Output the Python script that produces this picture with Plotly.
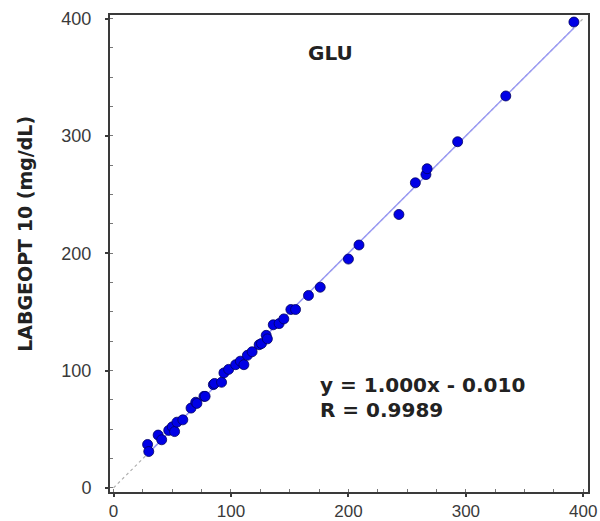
import plotly.graph_objects as go

# Reference method (x) vs LABGEOPT 10 (y), glucose mg/dL
x_ref = [29, 30, 38, 41, 47, 50, 52, 54, 59, 66, 70, 71, 77, 78, 85, 86, 92, 94,
         98, 104, 108, 111, 114, 118, 124, 126, 130, 131, 136, 141, 145, 151, 155,
         166, 176, 200, 209, 243, 257, 266, 267, 293, 334, 392]
y_lab = [37, 31, 45, 41, 49, 52, 48, 56, 58, 68, 73, 72, 78, 78, 88, 89, 90, 98,
         101, 105, 108, 105, 113, 116, 122, 123, 130, 127, 139, 140, 144, 152, 152,
         164, 171, 195, 207, 233, 260, 267, 272, 295, 334, 397]

slope = 1.000
intercept = -0.010
r_value = 0.9989
identity = [0, 400]
tick_vals = [0, 100, 200, 300, 400]

fit_x = [min(x_ref), max(x_ref)]
fit_y = [slope * v + intercept for v in fit_x]

fig = go.Figure()
fig.add_trace(go.Scatter(x=identity, y=identity, mode="lines",
                         line=dict(color="#b0b0b0", width=1.2, dash="dot"),
                         hoverinfo="skip", showlegend=False))
fig.add_trace(go.Scatter(x=fit_x, y=fit_y, mode="lines",
                         line=dict(color="#9a9af5", width=1.5),
                         hoverinfo="skip", showlegend=False))
fig.add_trace(go.Scatter(x=x_ref, y=y_lab, mode="markers",
                         marker=dict(color="#0000e6", size=10,
                                     line=dict(color="#000060", width=0.8)),
                         showlegend=False))

axis_common = dict(
    tickvals=tick_vals, showgrid=False, zeroline=False, automargin=False,
    showline=True, linecolor="#3a3a3a", linewidth=2, mirror=True,
    ticks="outside", ticklen=3, tickwidth=2, tickcolor="#3a3a3a",
    ticklabeloverflow="allow",
    minor=dict(ticks="inside", dtick=25, ticklen=3, tickwidth=1, tickcolor="#777777"),
    tickfont=dict(family="Liberation Sans, Arial, sans-serif", size=18, color="#3a3a3a"),
)

fig.update_xaxes(range=[-3, 404], ticklabelstandoff=0, **axis_common)
fig.update_yaxes(range=[-3.5, 403], ticklabelstandoff=10, **axis_common)
fig.update_xaxes(tickfont_size=17)

bold_font = dict(family="DejaVu Sans, Verdana, sans-serif", size=20, color="#222222")

fig.add_annotation(x=185, y=371, xref="x", yref="y", text="<b>GLU</b>",
                   showarrow=False, font=bold_font, xanchor="center", yanchor="middle")
fig.add_annotation(x=174, y=88, xref="x", yref="y",
                   text=f"<b>y = {slope:.3f}x - {abs(intercept):.3f}</b>",
                   showarrow=False, font=bold_font, xanchor="left", yanchor="middle")
fig.add_annotation(x=174, y=66, xref="x", yref="y",
                   text=f"<b>R = {r_value:.4f}</b>",
                   showarrow=False, font=bold_font, xanchor="left", yanchor="middle")
fig.add_annotation(x=-0.178, y=0.541, xref="paper", yref="paper",
                   text="<b>LABGEOPT 10 (mg/dL)</b>", textangle=-90,
                   showarrow=False, font=dict(bold_font, size=19),
                   xanchor="center", yanchor="middle")

fig.update_layout(width=600, height=521, plot_bgcolor="white", paper_bgcolor="white",
                  margin=dict(l=110, r=12, t=15, b=29))

# remove the page's default 8px body margin so the figure fills the window exactly
fig.write_html("out.html", config={"displayModeBar": False},
               post_script="document.body.style.margin='0';document.body.style.overflow='hidden';")
